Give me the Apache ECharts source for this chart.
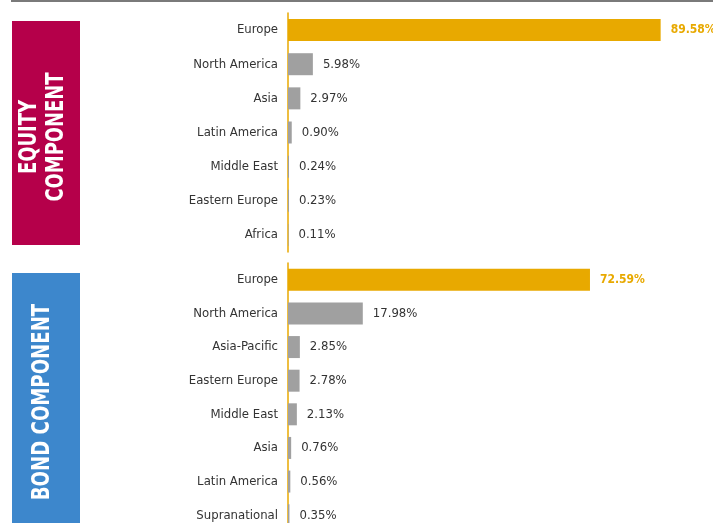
<!DOCTYPE html>
<html><head><meta charset="utf-8">
<script src="https://cdn.jsdelivr.net/npm/echarts@6/dist/echarts.min.js"></script>
<style>html,body{margin:0;padding:0;background:#fff;overflow:hidden}#c{width:713px;height:545px}</style>
</head><body><div id="c"></div>
<script>
var equityRegions = ['Europe','North America','Asia','Latin America','Middle East','Eastern Europe','Africa'];
var equityValues = [89.58, 5.98, 2.97, 0.90, 0.24, 0.23, 0.11];
var bondRegions = ['Europe','North America','Asia-Pacific','Eastern Europe','Middle East','Asia','Latin America','Supranational'];
var bondValues = [72.59, 17.98, 2.85, 2.78, 2.13, 0.76, 0.56, 0.35];
var equityTitle = 'EQUITY\nCOMPONENT';
var bondTitle = 'BOND COMPONENT';

var FONT = '"DejaVu Sans Condensed","Liberation Sans Narrow",sans-serif';
var GOLD = '#E8A900', GRAY = '#A0A0A0';

function barData(vals){
  return vals.map(function(v,i){
    return {value:v,
      itemStyle:{color: i===0?GOLD:GRAY},
      label: i===0 ? {color:GOLD,fontWeight:'bold',fontSize:12} : {}};
  });
}
function yAx(idx, cats){
  return {type:'category', gridIndex:idx, data:cats, inverse:true,
    axisLine:{show:true,lineStyle:{color:GOLD,width:1.5}},
    axisTick:{show:false},
    axisLabel:{color:'#333',fontSize:13,fontFamily:FONT,margin:10}};
}
function xAx(idx){
  return {type:'value', gridIndex:idx, min:0, max:100, show:false};
}
function ser(idx, vals){
  return {type:'bar', xAxisIndex:idx, yAxisIndex:idx, data:barData(vals),
    barWidth:22, animation:false,
    label:{show:true, position:'right', distance:10, color:'#333', fontSize:13, fontFamily:FONT,
      formatter:function(p){return p.value.toFixed(2)+'%';}}};
}
var chart = echarts.init(document.getElementById('c'), null, {renderer:'canvas'});
chart.setOption({
  animation:false,
  grid:[
    {left:288, width:416, top:13, height:239},
    {left:288, width:416, top:263, height:269}
  ],
  xAxis:[xAx(0), xAx(1)],
  yAxis:[yAx(0,equityRegions), yAx(1,bondRegions)],
  series:[ser(0,equityValues), ser(1,bondValues)],
  graphic:[
    {type:'rect', shape:{x:11,y:0,width:702,height:2}, style:{fill:'#7a7a7a'}},
    {type:'rect', shape:{x:12,y:21,width:68,height:224}, style:{fill:'#B5004A'}},
    {type:'rect', shape:{x:12,y:273,width:68,height:272}, style:{fill:'#3D87CC'}},
    {type:'text', x:43, y:137, rotation:Math.PI/2, scaleX:0.83,
      style:{text:equityTitle, fill:'#fff', font:'bold 24px '+FONT, align:'center', verticalAlign:'middle', lineHeight:27}},
    {type:'text', x:43, y:402, rotation:Math.PI/2, scaleX:0.84,
      style:{text:bondTitle, fill:'#fff', font:'bold 24px '+FONT, align:'center', verticalAlign:'middle'}}
  ]
});
</script></body></html>
